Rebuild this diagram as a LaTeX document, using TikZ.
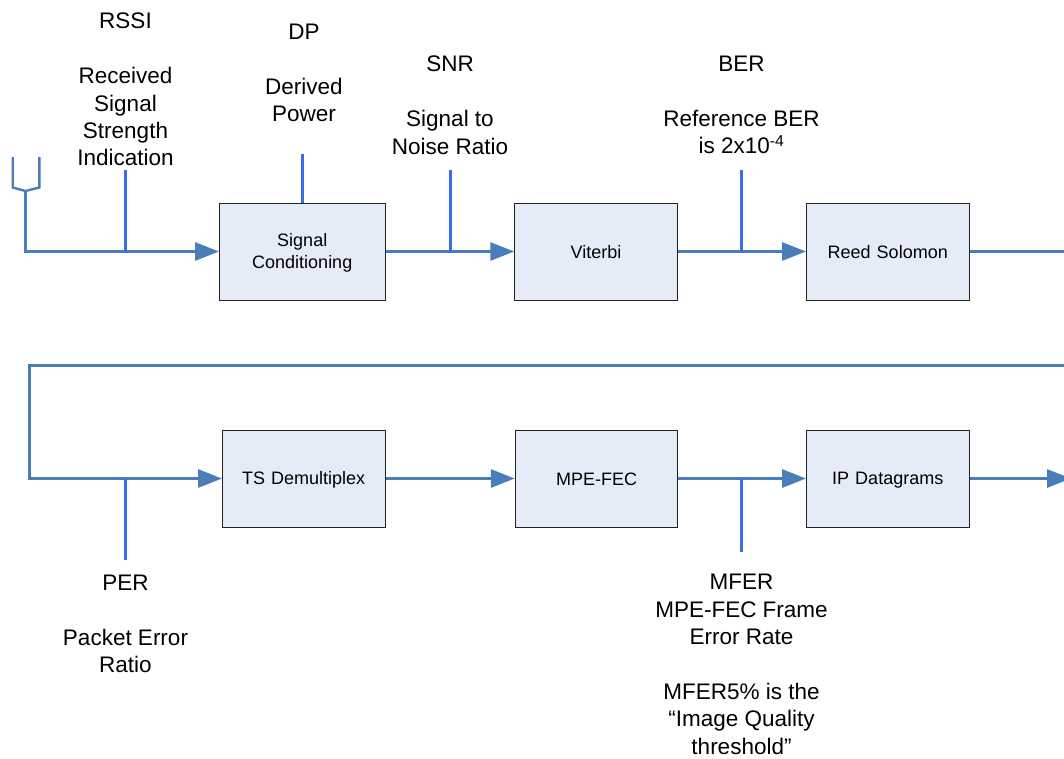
\documentclass[tikz,border=0pt]{standalone}
\usepackage{fontspec}
\setmainfont{Liberation Sans}
\usetikzlibrary{arrows.meta}
\usetikzlibrary{positioning}
\definecolor{flowblue}{HTML}{4A7EBB}
\definecolor{tapblue}{HTML}{3B6BE8}
\definecolor{boxfill}{HTML}{E6ECF7}
\definecolor{boxline}{HTML}{222222}
\tikzstyle{arrow} = [flowblue,line width=3pt,-{Triangle[length=24pt,width=18pt]}]
\tikzstyle{flow} = [flowblue,line width=3pt]
\tikzstyle{tap} = [tapblue,line width=3pt]
\tikzstyle{stage} = [
    rectangle, minimum width=162.5pt, minimum height=97pt, text centered, text width=150pt,
    draw=boxline, line width=1pt, fill=boxfill, inner sep=0pt,
    execute at begin node={\rule[-2.5pt]{0pt}{18.5pt}},
    font=\fontsize{18}{22}\selectfont]
\tikzstyle{measure} = [
    anchor=north, align=center, inner sep=0pt,
    font=\fontsize{22.5}{27.4}\selectfont]

\begin{document}
\begin{tikzpicture}[x=1pt,y=-1pt]
\useasboundingbox (0,0) rectangle (1064,758);
\node (signal) [stage, minimum width=165.5pt] at (302.25,251.5) {
    Signal \\
    Conditioning
};
\node (viterbi) [stage] at (596,251.5) {Viterbi};
\node (reed) [stage] at (887.75,251.5) {Reed Solomon};
\node (demux) [stage] at (303.75,478.5) {TS Demultiplex};
\node (mpefec) [stage] at (596.5,478.5) {MPE-FEC};
\node (ipdata) [stage] at (887.75,478.5) {IP Datagrams};

% antenna
\coordinate (antL) at (12.7,157);
\coordinate (antLs) at (12.7,187.5);
\coordinate (antfoot) at (25.5,191);
\coordinate (antRs) at (39.3,187.5);
\coordinate (antR) at (39.3,157);
\coordinate (antcorner) at (25.5,251.5);
\draw [flow, line width=2.4pt] (antL) -- (antLs) -- (antfoot) -- (antRs) -- (antR);
\draw [arrow] (antfoot) -- (antcorner) -- (signal.west);

% upper row
\draw [arrow] (signal) -- (viterbi);
\draw [arrow] (viterbi) -- (reed);
\coordinate (rowend) at (1064,251.5);
\draw [flow] (reed) -- (rowend);

% lower row
\coordinate (backR) at (1064,365);
\coordinate (backL) at (29.5,365);
\coordinate (backD) at (29.5,478.5);
\coordinate (outR) at (1071,478.5);
\draw [arrow] (backR) -- (backL) -- (backD) -- (demux.west);
\draw [arrow] (demux) -- (mpefec);
\draw [arrow] (mpefec) -- (ipdata);
\draw [arrow] (ipdata) -- (outR);

% measuring points
\coordinate (rssiA) at (125.5,170);
\coordinate (rssiB) at (125.5,251.5);
\coordinate (dpA) at (302.25,154);
\coordinate (snrA) at (450,170);
\coordinate (snrB) at (450,251.5);
\coordinate (berA) at (741.5,170);
\coordinate (berB) at (741.5,251.5);
\coordinate (perA) at (125.5,478.5);
\coordinate (perB) at (125.5,560);
\coordinate (mferA) at (741.5,478.5);
\coordinate (mferB) at (741.5,552);
\draw [tap] (rssiA) -- (rssiB);
\draw [tap] (dpA) -- (signal.north);
\draw [tap] (snrA) -- (snrB);
\draw [tap] (berA) -- (berB);
\draw [tap] (perA) -- (perB);
\draw [tap] (mferA) -- (mferB);

\node (rssi) [measure] at (125.5,13) {
    RSSI \\[27.4pt]
    Received \\
    Signal \\
    Strength \\
    Indication
};
\node (dp) [measure] at (304,24) {
    DP \\[27.4pt]
    Derived \\
    Power
};
\node (snr) [measure] at (450,56) {
    SNR \\[27.4pt]
    Signal to \\
    Noise Ratio
};
\node (ber) [measure] at (741.5,56) {
    BER \\[27.4pt]
    Reference BER \\
    is 2x10\textsuperscript{-4}
};
\node (per) [measure] at (125.5,575) {
    PER \\[27.4pt]
    Packet Error \\
    Ratio
};
\node (mfer) [measure] at (741.5,574) {
    MFER \\
    MPE-FEC Frame \\
    Error Rate \\[27.4pt]
    MFER5\% is the \\
    “Image Quality \\
    threshold”
};
\end{tikzpicture}
\end{document}
